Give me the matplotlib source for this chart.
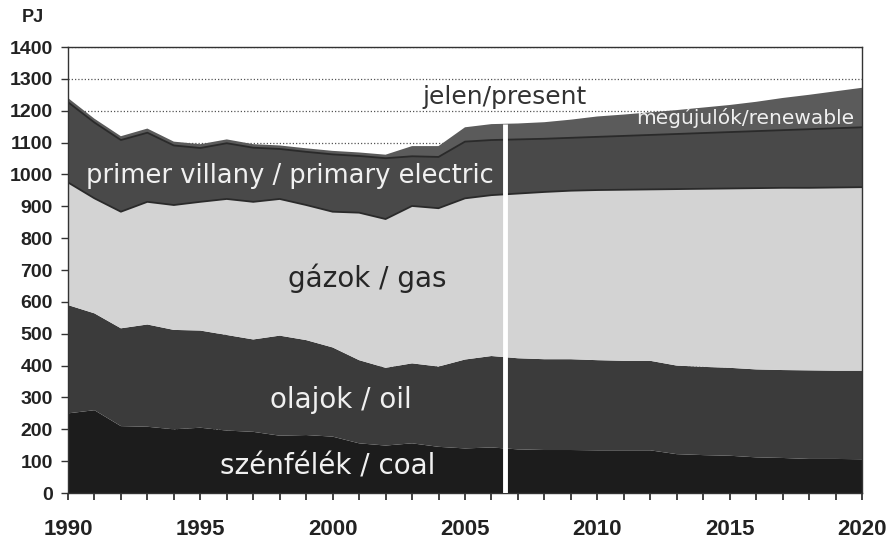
import numpy as np
import matplotlib
matplotlib.use("Agg")
import matplotlib.pyplot as plt

# --- données (PJ) ---
years = np.arange(1990, 2021)
coal = [250, 260, 210, 208, 200, 205, 196, 192, 180, 182, 177, 156, 149, 156, 145, 140,
        143, 137, 135, 135, 134, 134, 134, 122, 119, 117, 112, 110, 107, 107, 106]
oil = [340, 304, 307, 321, 312, 305, 300, 290, 314, 298, 280, 261, 244, 251, 252, 279,
       287, 286, 285, 285, 283, 281, 281, 278, 277, 276, 276, 276, 278, 277, 278]
gas = [385, 361, 366, 385, 392, 404, 427, 432, 429, 424, 426, 463, 467, 494, 497, 506,
       505, 517, 525, 529, 534, 537, 538, 554, 559, 563, 569, 572, 573, 575, 576]
electric = [252, 238, 225, 217, 187, 169, 175, 170, 157, 167, 180, 178, 191, 156, 161, 178,
            173, 170, 167, 166, 167, 169, 171, 173, 175, 177, 179, 181, 184, 186, 188]
renewable = [13, 12, 12, 13, 12, 12, 12, 11, 11, 11, 11, 11, 11, 32, 34, 45,
             50, 50, 52, 57, 64, 67, 71, 75, 80, 85, 92, 101, 108, 116, 124]

present_year = 2006.5
colors = ["#1c1c1c", "#3b3b3b", "#d3d3d3", "#494949", "#5b5b5b"]

fig = plt.figure(figsize=(8.93, 5.41), dpi=100)
ax = fig.add_axes([0.0761, 0.0887, 0.8892, 0.8244])

ax.set_axisbelow(True)
ax.yaxis.grid(True, linestyle=(0, (1, 1.6)), color="#555555", linewidth=0.9)

ax.stackplot(years, coal, oil, gas, electric, renewable, colors=colors, linewidth=0)

# lignes de séparation autour de l'électricité primaire
layers = np.vstack([coal, oil, gas, electric, renewable])
cum = layers.cumsum(axis=0)
ax.plot(years, cum[2], color="#2a2a2a", lw=1.3)
ax.plot(years, cum[3], color="#2a2a2a", lw=1.3)

# ligne "jelen/present"
top_present = np.interp(present_year, years, cum[4])
ax.vlines(present_year, 0, top_present, color="white", lw=3.5, zorder=5)

ax.set_xlim(1990, 2020)
ax.set_ylim(0, 1400)
ax.set_yticks(np.arange(0, 1401, 100))
ax.set_xticks(np.arange(1990, 2021, 5))
ax.set_xticks(years, minor=True)

for s in ax.spines.values():
    s.set_color("#333333")
    s.set_linewidth(1.0)

tick_font = "Liberation Sans"
ax.tick_params(axis="x", which="both", direction="out", length=5, width=1.3, color="#333333")
ax.tick_params(axis="y", direction="out", length=5, width=1.0, color="#333333")
ax.tick_params(axis="x", labelsize=16, labelcolor="#222222", pad=14)
ax.tick_params(axis="y", labelsize=14, labelcolor="#222222", pad=6)
for lab in ax.get_xticklabels() + ax.get_yticklabels():
    lab.set_fontweight("bold")
    lab.set_family(tick_font)

fig.text(0.024, 0.968, "PJ", fontsize=13, fontweight="bold", color="#222222",
         ha="left", va="center", family=tick_font)

lab_font = "DejaVu Sans"
ax.text(present_year, 1243, "jelen/present", fontsize=18, color="#333333",
        ha="center", va="center", family=lab_font)
ax.text(1998.4, 995, "primer villany / primary electric", fontsize=18.5, color="#f0f0f0",
        ha="center", va="center", family=lab_font)
ax.text(2015.6, 1177, "megújulók/renewable", fontsize=14.5, color="#f0f0f0",
        ha="center", va="center", family=lab_font)
ax.text(2001.3, 675, "gázok / gas", fontsize=20, color="#262626",
        ha="center", va="center", family=lab_font)
ax.text(2000.3, 292, "olajok / oil", fontsize=20, color="#f0f0f0",
        ha="center", va="center", family=lab_font)
ax.text(1999.8, 82, "szénfélék / coal", fontsize=20, color="#f0f0f0",
        ha="center", va="center", family=lab_font)

fig.savefig("out.png", dpi=100, facecolor="white")
